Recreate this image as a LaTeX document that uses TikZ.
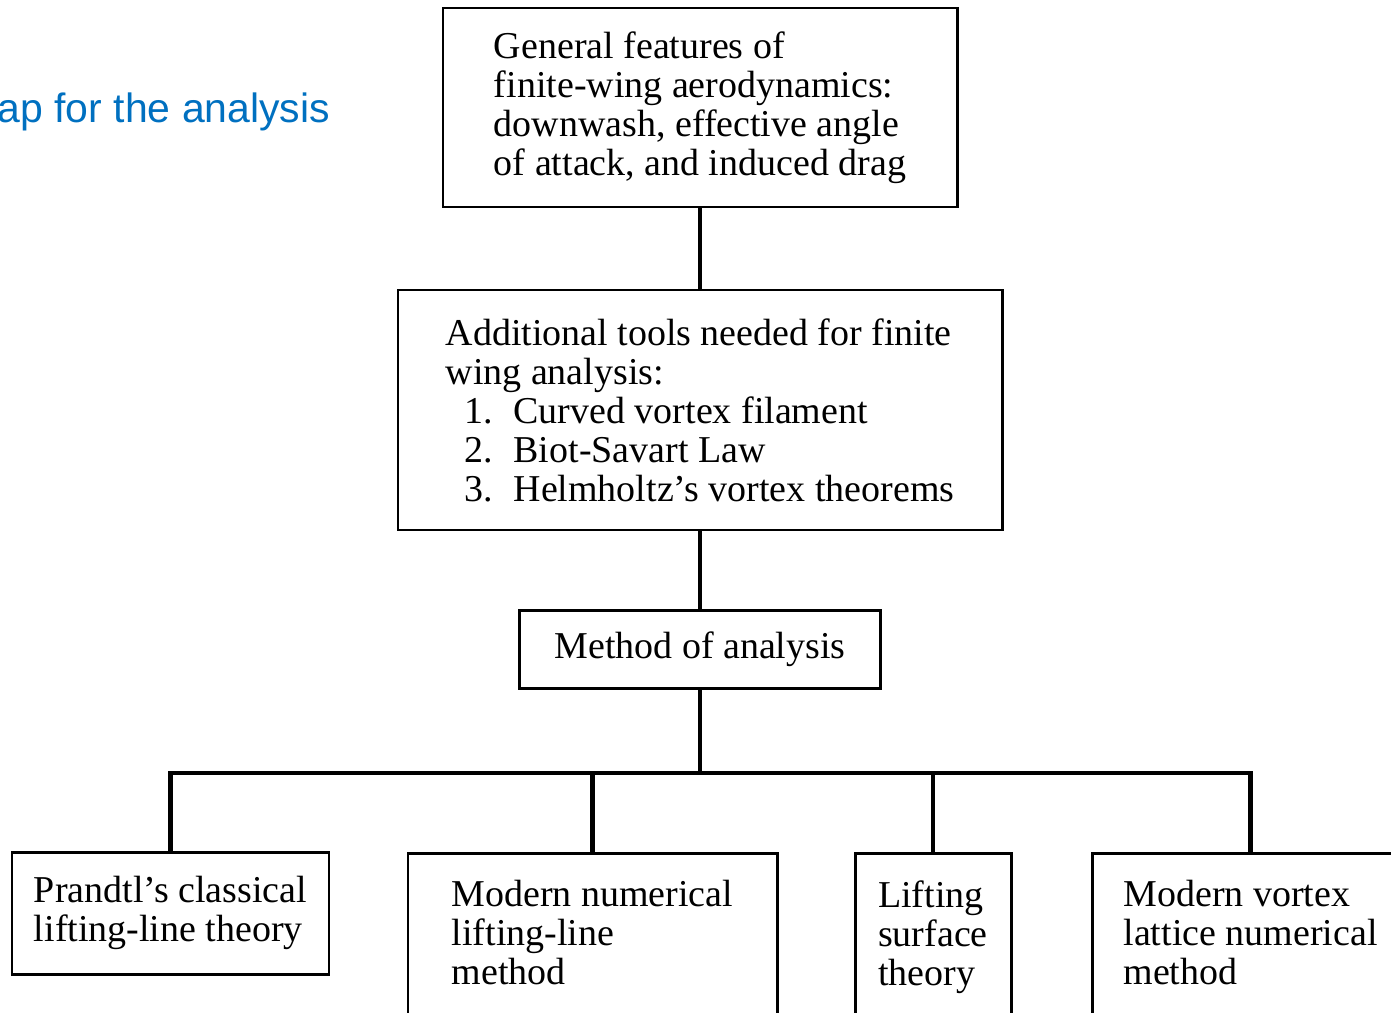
\documentclass[tikz,border=0pt]{standalone}
\usepackage{fontspec}
\setmainfont{Liberation Serif}
\newfontfamily\hdrfont{Liberation Sans}
\definecolor{pblue}{HTML}{0070C0}
\newcommand{\itm}[1]{\hspace*{0.19cm}\makebox[0.49cm][l]{#1}}

\begin{document}
\begin{tikzpicture}[
  box/.style={draw,line width=0.85pt,align=left,inner sep=0pt,
    font=\fontsize{10.8}{11.1}\selectfont},
  lowbox/.style={box,anchor=north,inner ysep=0.27cm,text depth=1.6cm},
  link/.style={line width=1.4pt},
  hdr/.style={text=pblue,font=\hdrfont\fontsize{11.65}{14}\selectfont,inner sep=0pt}]
\clip (0,0) rectangle (13.91,-10.13);

% ---- title, cut by the left edge ---------------------------------------
\node[hdr,anchor=base west] (title) at (-0.03,-1.22) {ap for the analysis};

% ---- the column, top to bottom -----------------------------------------
\node[box,minimum width=5.14cm,minimum height=1.99cm] (feat) at (7.00,-1.075)
  {General features of\\finite-wing aerodynamics:\\downwash, effective angle\\of attack, and induced drag};
\node[box,minimum width=6.04cm,minimum height=2.40cm] (tools) at (7.00,-4.10)
  {Additional tools needed for finite\\wing analysis:\\
   \itm{1.}Curved vortex filament\\\itm{2.}Biot-Savart Law\\\itm{3.}Helmholtz's vortex theorems};
\node[box,minimum width=3.61cm,minimum height=0.78cm] (method) at (7.00,-6.49)
  {Method of analysis};

% ---- the four methods, left to right -----------------------------------
% The three right-hand boxes run past the lower edge: their text depth
% pushes the bottom line outside the clip.
\node[box,minimum width=3.17cm,minimum height=1.22cm] (prandtl) at (1.705,-9.13)
  {Prandtl's classical\\lifting-line theory};
\node[lowbox,minimum width=3.69cm] (numll) at (5.925,-8.52)
  {Modern numerical\\lifting-line\\method};
\node[lowbox,minimum width=1.56cm] (lsurf) at (9.33,-8.52)
  {Lifting\\surface\\theory};
\node[lowbox,minimum width=3.17cm] (vlm) at (12.505,-8.52)
  {Modern vortex\\lattice numerical\\method};

% ---- the tree ----------------------------------------------------------
\coordinate (bus) at (7.00,-7.73);
\draw[link] (feat) -- (tools);
\draw[link] (tools) -- (method);
\draw[link] (method) -- (bus);
\draw[link] (prandtl.north) |- (bus) -| (vlm.north);
\draw[link] (numll.north) -- (numll.north |- bus);
\draw[link] (lsurf.north) -- (lsurf.north |- bus);
\end{tikzpicture}
\end{document}
